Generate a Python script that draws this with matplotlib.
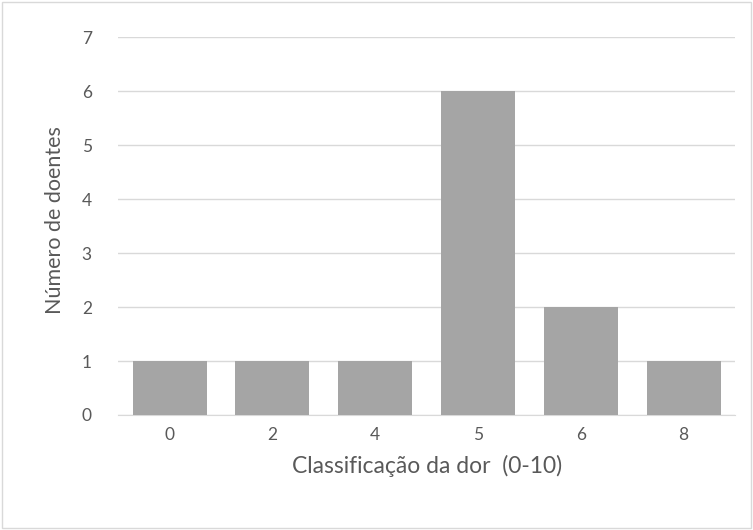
import matplotlib
matplotlib.use("Agg")
import matplotlib.pyplot as plt
from matplotlib.patches import Rectangle

categories = ["0", "2", "4", "5", "6", "8"]
values = [1, 1, 1, 6, 2, 1]
yticks = [0, 1, 2, 3, 4, 5, 6, 7]

plt.rcParams['font.family'] = ['Lato', 'DejaVu Sans']

fig = plt.figure(figsize=(7.53, 5.30), dpi=100)
ax = fig.add_axes([0.157, 0.217, 0.819, 0.713])

x = list(range(len(categories)))
ax.bar(x, values, width=0.72, color="#A5A5A5", zorder=3)
ax.set_xlim(-0.5, len(categories) - 0.5)
ax.set_ylim(0, 7)
ax.set_xticks(x)
ax.set_xticklabels(categories)
ax.set_yticks(yticks)
ax.grid(axis="y", color="#D9D9D9", linewidth=1, zorder=0)
for s in ["top", "right", "left"]:
    ax.spines[s].set_visible(False)
ax.spines["bottom"].set_color("#D9D9D9")
ax.tick_params(axis="both", length=0, labelsize=12.5, colors="#595959")
ax.tick_params(axis="x", pad=9)
ax.tick_params(axis="y", pad=19)
ax.set_xlabel("Classificação da dor  (0-10)", fontsize=16.5, color="#595959", labelpad=8)
ax.set_ylabel("Número de doentes", fontsize=15.5, color="#595959", labelpad=9)
ax.yaxis.set_label_coords(-0.086, 0.515)

fig.patches.append(Rectangle((0.003, 0.004), 0.994, 0.992, transform=fig.transFigure,
                             fill=False, edgecolor="#D9D9D9", linewidth=1))

fig.savefig("out.png", dpi=100)
